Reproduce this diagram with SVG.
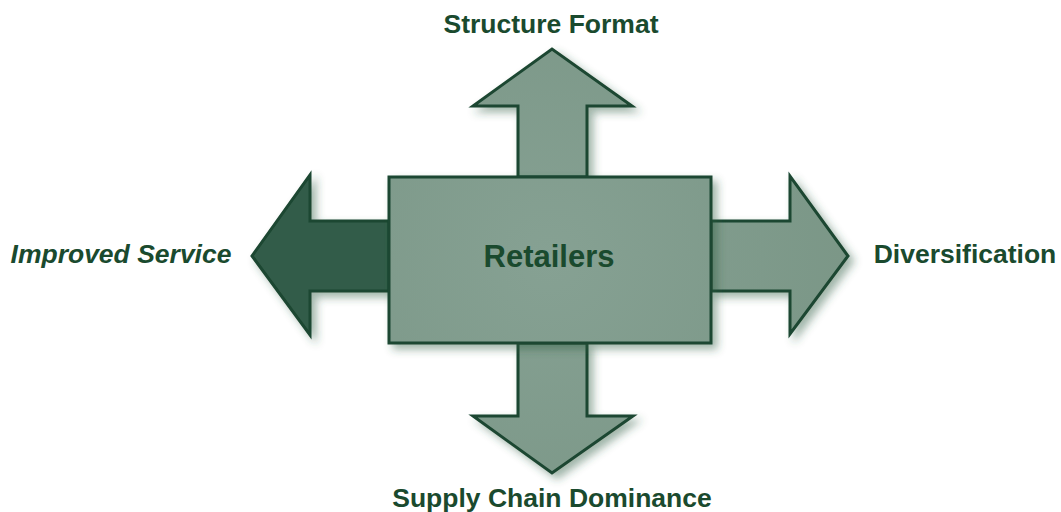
<svg xmlns="http://www.w3.org/2000/svg" width="1061" height="512" viewBox="0 0 1061 512">
<style>
.shape{stroke:#1b4630;stroke-width:3;stroke-linejoin:miter;filter:url(#sh)}
.light{fill:url(#g)}
.dark{fill:#325c48}
.lbl{font-family:"Liberation Sans",Arial,sans-serif;font-weight:bold;font-size:26.5px;fill:#1a4a2e}
</style>
<defs>
<radialGradient id="g" gradientUnits="userSpaceOnUse" cx="550" cy="260" r="320">
<stop offset="0" stop-color="#86a193"/>
<stop offset="1" stop-color="#7a9686"/>
</radialGradient>
<filter id="sh" x="-20%" y="-20%" width="150%" height="150%">
<feGaussianBlur in="SourceAlpha" stdDeviation="4"/>
<feOffset dx="5" dy="5" result="b"/>
<feFlood flood-color="#2c5a40" flood-opacity="0.45"/>
<feComposite in2="b" operator="in" result="s"/>
<feMerge><feMergeNode in="s"/><feMergeNode in="SourceGraphic"/></feMerge>
</filter>
</defs>
<g id="connectors">
<g id="arrow-left"><path class="shape dark" d="M389,221 L310,221 L310,175 L252,256 L310,335 L310,291 L389,291 Z"/></g>
<g id="arrow-right"><path class="shape light" d="M711,221 L790,221 L790,176 L848,256 L790,334 L790,291 L711,291 Z"/></g>
<g id="arrow-up"><path class="shape light" d="M518,177 L518,106 L473,106 L552,49 L632,106 L587,106 L587,177 Z"/></g>
<g id="arrow-down"><path class="shape light" d="M518,343 L518,416 L473,416 L552,473 L633,416 L587,416 L587,343 Z"/></g>
</g>
<g id="retailers">
<rect class="shape light" x="389" y="177" width="322" height="166"/>
<text class="lbl" x="549" y="267" text-anchor="middle" style="font-size:31px">Retailers</text>
</g>
<g id="structure-format"><text class="lbl" x="551" y="33" text-anchor="middle">Structure Format</text></g>
<g id="improved-service"><text class="lbl" x="121" y="263" text-anchor="middle" font-style="italic">Improved Service</text></g>
<g id="diversification"><text class="lbl" x="965" y="263" text-anchor="middle">Diversification</text></g>
<g id="supply-chain"><text class="lbl" x="552" y="507" text-anchor="middle">Supply Chain Dominance</text></g>
</svg>
